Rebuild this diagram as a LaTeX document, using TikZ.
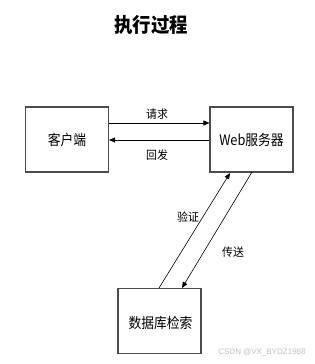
\documentclass[tikz,border=0pt]{standalone}
\usepackage{fontspec}
\setmainfont{Noto Sans CJK SC}
\setsansfont{Liberation Sans}
\usetikzlibrary{arrows.meta}
\begin{document}
\begin{tikzpicture}[x=1pt,y=-1pt,
  box/.style={draw=black!70,line width=1.1pt,minimum width=83pt,minimum height=65pt,inner sep=0pt},
  boxtext/.style={font=\fontsize{14.5}{16}\selectfont,xscale=0.88},
  lbl/.style={font=\fontsize{11.5}{13}\selectfont,inner sep=0pt,xscale=0.95},
  conn/.style={draw=black,line width=0.6pt,-{Triangle[length=6pt,width=5pt]}}]
\useasboundingbox (0,0) rectangle (315,364);
\node[font=\fontsize{20}{22}\selectfont\bfseries,xscale=0.92] (title) at (151,25) {执行过程};
\node[box] (client) at (67,139.5) {};
\node[boxtext] (clientt) at (67,140) {客户端};
\node[box] (web) at (251.5,139.5) {};
\node[boxtext] (webt) at (251.5,140) {Web服务器};
\node[box] (db) at (159.5,321) {};
\node[boxtext] (dbt) at (160.5,323) {数据库检索};
\coordinate (r1) at (client.east |- 0,123);
\coordinate (r2) at (web.west |- 0,123);
\coordinate (b1) at (web.west |- 0,140);
\coordinate (b2) at (client.east |- 0,140);
\draw[conn] (r1) -- (r2);
\draw[conn] (b1) -- (b2);
\node[lbl] (req) at (157,114) {请求};
\node[lbl] (back) at (157,155) {回发};
\coordinate (v1) at (159,288);
\coordinate (v2) at (230,173);
\coordinate (s1) at (252,172);
\coordinate (s2) at (182,288);
\draw[conn] (v1) -- (v2);
\draw[conn] (s1) -- (s2);
\node[lbl] (verify) at (188,217) {验证};
\node[lbl] (send) at (233,252) {传送};
\node[font=\sffamily\fontsize{8}{9}\selectfont,text=black!25,inner sep=0pt] (wm) at (262,352) {CSDN @VX\_BYDZ1988};
\end{tikzpicture}
\end{document}
